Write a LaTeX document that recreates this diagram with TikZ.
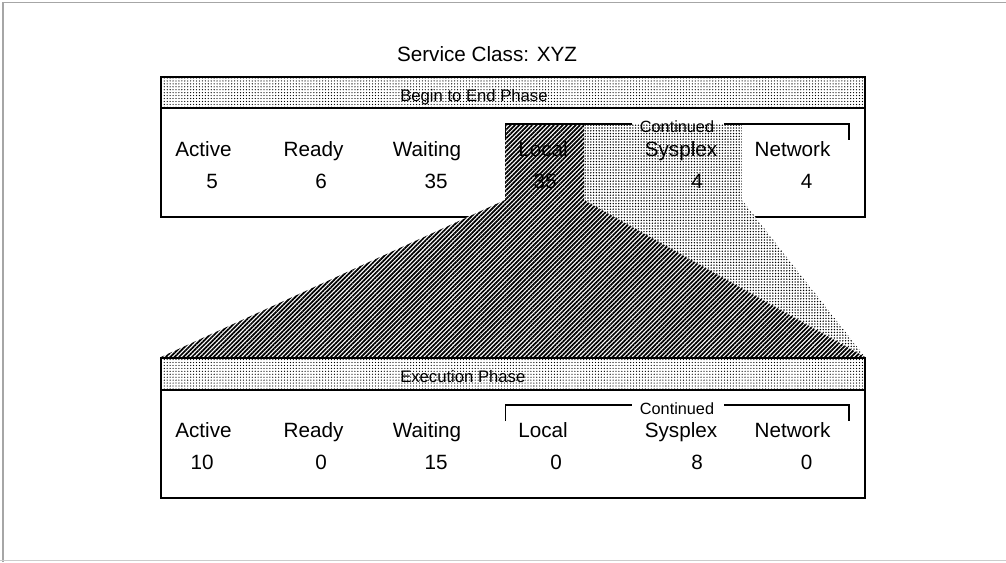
\documentclass[tikz,border=0pt]{standalone}
\usepackage{fontspec}
\setmainfont{Liberation Sans}
\usetikzlibrary{patterns.meta}
\begin{document}
\begin{tikzpicture}[x=0.75pt,y=-0.75pt,
  lbl/.style={font=\fontsize{15.5}{18}\selectfont, inner sep=0, anchor=base},
  hdr/.style={font=\fontsize{12.5}{14}\selectfont, inner sep=0, anchor=base west},
  cont/.style={font=\fontsize{12.2}{14}\selectfont, inner sep=0, anchor=base},
  boxline/.style={line width=1.3pt, draw=black},
  hdrfill/.style={pattern={Dots[distance=2.2pt, radius=0.48pt]}, pattern color=black},
  lightfill/.style={pattern={Dots[distance=2.1pt, radius=0.58pt]}, pattern color=black},
  darkfill/.style={pattern={Lines[angle=45, distance=2.3pt, line width=1.3pt]}, pattern color=black},
  brk/.style={line width=1pt}]
\useasboundingbox (0,0) rectangle (1006,562);
% outer frame
\draw[gray!70, line width=1pt] (3,562) -- (3,2.5) -- (1006,2.5);
\draw[gray!40, line width=1pt] (0,560.5) -- (1006,560.5);

% title
\node[lbl] (title) at (487,61.5) {Service Class: XYZ};

% top box
\fill[hdrfill] (161,77) rectangle (865,108);
\draw[boxline] (161,77) rectangle (865,217);
\draw[boxline] (161,108) -- (865,108);

% light (Sysplex) region
\fill[white] (584,124) -- (742,124) -- (742,200) -- (865,357) -- (584,200) -- cycle;
\fill[lightfill] (584,124) -- (742,124) -- (742,200) -- (865,357) -- (584,200) -- cycle;
% dark (Local) region
\fill[white] (505,124) -- (584,124) -- (584,200) -- (865,357) -- (161,357) -- (505,200) -- cycle;
\fill[darkfill] (505,124) -- (584,124) -- (584,200) -- (865,357) -- (161,357) -- (505,200) -- cycle;

% bottom box
\fill[white] (161,358) rectangle (865,498);
\fill[hdrfill] (161,358) rectangle (865,390);
\draw[boxline] (161,358) rectangle (865,498);
\draw[boxline] (161,390) -- (865,390);

% headers
\node[hdr] (h1) at (400,101.5) {Begin to End Phase};
\node[hdr] (h2) at (400,382.5) {Execution Phase};

% brackets
\draw[brk] (505.5,140) -- (505.5,124) -- (632,124);
\draw[brk] (724,124) -- (849,124) -- (849,140);
\node[cont] (c1) at (677,132.5) {Continued};
\draw[brk] (505.5,421) -- (505.5,405) -- (632,405);
\draw[brk] (724,405) -- (849,405) -- (849,421);
\node[cont] (c2) at (677,414.5) {Continued};

% top row
\node[lbl] (ta) at (203.5,156.5) {Active};
\node[lbl] (tr) at (313.5,156.5) {Ready};
\node[lbl] (tw) at (427,156.5) {Waiting};
\node[lbl] (tl) at (543,156.5) {Local};
\node[lbl] (ts) at (681,156.5) {Sysplex};
\node[lbl] (tn) at (792.5,156.5) {Network};
\node[lbl] (ta2) at (212,188) {5};
\node[lbl] (tr2) at (321,188) {6};
\node[lbl] (tw2) at (436,188) {35};
\node[lbl] (tl2) at (545,188) {35};
\node[lbl] (ts2) at (697,188) {4};
\node[lbl] (tn2) at (806.5,188) {4};

% bottom row
\node[lbl] (ba) at (203.5,437) {Active};
\node[lbl] (br) at (313.5,437) {Ready};
\node[lbl] (bw) at (427,437) {Waiting};
\node[lbl] (bl) at (543,437) {Local};
\node[lbl] (bs) at (681,437) {Sysplex};
\node[lbl] (bn) at (792.5,437) {Network};
\node[lbl] (ba2) at (202,469) {10};
\node[lbl] (br2) at (321,469) {0};
\node[lbl] (bw2) at (436,469) {15};
\node[lbl] (bl2) at (556,469) {0};
\node[lbl] (bs2) at (697,469) {8};
\node[lbl] (bn2) at (806.5,469) {0};
\end{tikzpicture}
\end{document}
